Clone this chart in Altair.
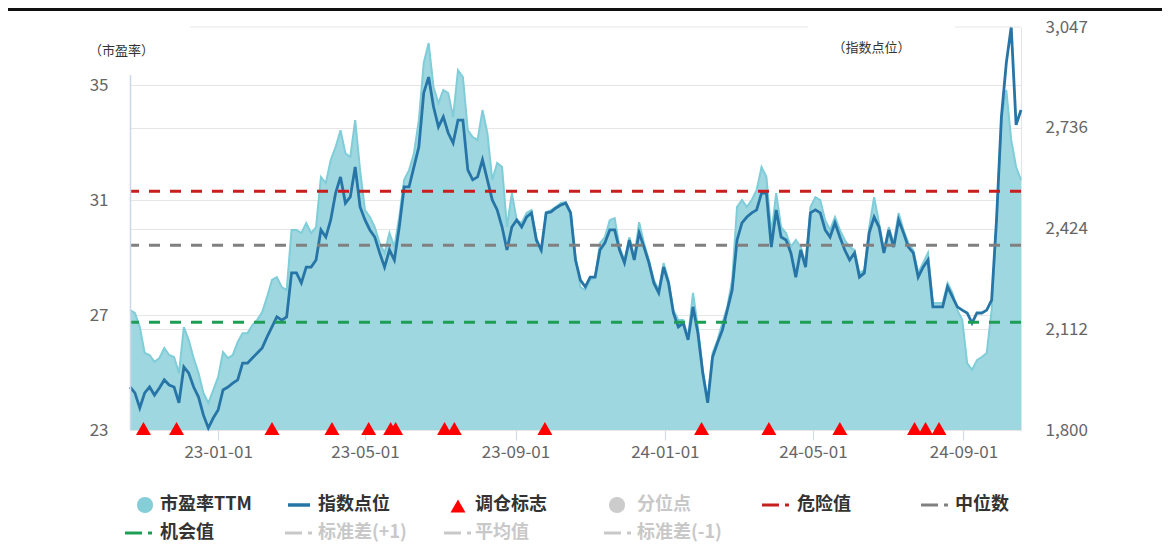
import altair as alt
import pandas as pd

FONT = "Noto Sans CJK SC"

# ---------------- data ----------------
start_date = "2022-10-21"
end_date = "2024-10-18"

pe_ttm = [27.17, 27.07, 26.58, 25.68, 25.61, 25.37, 25.50, 25.85, 25.61, 25.54,
          24.98, 26.58, 26.13, 25.50, 24.98, 24.29, 23.94, 24.39, 24.84, 25.71,
          25.50, 25.61, 26.06, 26.37, 26.37, 26.65, 26.83, 27.10, 27.63, 28.22,
          28.32, 27.97, 27.87, 29.96, 29.96, 29.85, 30.20, 29.85, 30.06, 31.80,
          31.59, 32.39, 32.84, 33.43, 32.63, 32.50, 33.78, 32.04, 30.65, 30.41,
          30.06, 29.50, 29.16, 29.85, 29.37, 30.41, 31.70, 32.04, 32.63, 33.78,
          35.77, 36.46, 34.93, 34.37, 34.83, 34.72, 33.89, 35.52, 35.28, 33.43,
          33.19, 33.09, 34.13, 33.33, 31.70, 32.29, 32.15, 30.06, 31.24, 30.30,
          30.20, 30.55, 30.65, 29.71, 29.16, 30.58, 30.65, 30.76, 30.90, 30.93,
          30.58, 29.02, 27.97, 27.87, 28.22, 28.32, 29.50, 29.71, 30.30, 30.37,
          29.37, 28.91, 29.71, 29.02, 30.23, 29.50, 28.91, 28.22, 27.87, 28.81,
          28.22, 27.17, 26.83, 26.83, 26.23, 27.77, 26.58, 25.09, 24.04, 25.68,
          26.13, 26.72, 27.28, 28.22, 30.76, 31.00, 30.76, 31.00, 31.35, 32.15,
          31.80, 29.85, 31.24, 30.06, 29.85, 29.37, 29.61, 29.37, 28.81, 30.76,
          31.10, 31.00, 30.30, 29.96, 30.41, 29.96, 29.61, 29.37, 29.26, 28.46,
          28.57, 30.06, 31.10, 30.20, 29.26, 30.06, 29.50, 30.55, 29.96, 29.50,
          29.26, 28.46, 28.81, 29.16, 27.42, 27.42, 27.42, 28.11, 27.77, 27.17,
          26.83, 25.33, 25.09, 25.43, 25.54, 25.68, 27.17, 30.30, 33.78, 34.83,
          33.09, 32.15, 31.70]

index_points = [1933, 1915, 1868, 1915, 1933, 1908, 1930, 1955, 1939, 1933,
                1884, 1995, 1976, 1933, 1902, 1846, 1806, 1837, 1862, 1924,
                1933, 1945, 1955, 2007, 2007, 2023, 2038, 2054, 2088, 2119,
                2150, 2140, 2150, 2286, 2286, 2255, 2304, 2304, 2326, 2419,
                2397, 2450, 2533, 2583, 2502, 2521, 2614, 2490, 2450, 2419,
                2397, 2348, 2304, 2357, 2326, 2428, 2552, 2552, 2614, 2676,
                2843, 2892, 2800, 2738, 2769, 2719, 2688, 2759, 2759, 2605,
                2574, 2583, 2636, 2574, 2512, 2481, 2428, 2357, 2428, 2450,
                2428, 2459, 2472, 2388, 2357, 2472, 2475, 2487, 2496, 2502,
                2472, 2326, 2264, 2243, 2273, 2273, 2357, 2379, 2419, 2419,
                2357, 2317, 2388, 2326, 2410, 2366, 2317, 2255, 2224, 2304,
                2255, 2162, 2119, 2131, 2079, 2181, 2100, 1976, 1884, 2026,
                2069, 2109, 2171, 2233, 2388, 2441, 2459, 2472, 2481, 2533,
                2533, 2366, 2481, 2397, 2388, 2348, 2273, 2357, 2304, 2472,
                2481, 2472, 2419, 2397, 2441, 2397, 2357, 2326, 2348, 2273,
                2286, 2410, 2459, 2428, 2348, 2419, 2366, 2450, 2410, 2366,
                2348, 2273, 2304, 2326, 2181, 2181, 2181, 2243, 2212, 2181,
                2171, 2162, 2131, 2162, 2162, 2171, 2202, 2450, 2769, 2936,
                3047, 2744, 2790]

rebalance_dates = ["2022-11-01", "2022-11-28", "2023-02-14", "2023-04-04",
                   "2023-05-04", "2023-05-22", "2023-05-26", "2023-07-05",
                   "2023-07-13", "2023-09-25", "2024-01-31", "2024-03-26",
                   "2024-05-23", "2024-07-23", "2024-08-01", "2024-08-12"]

threshold_names = ["危险值", "中位数", "机会值"]
threshold_values = [31.31, 29.43, 26.75]
threshold_colors = ["#c81e1e", "#808080", "#1e9e55"]

pe_domain = [23, 37.02]
idx_domain = [1800, 3047]
pe_ticks = [23, 27, 31, 35]
idx_ticks = [1800, 2111.75, 2423.5, 2735.25, 3047]
x_ticks = ["2023-01-01", "2023-05-01", "2023-09-01",
           "2024-01-01", "2024-05-01", "2024-09-01"]

# ---------------- tables ----------------
dates = pd.date_range(start_date, end_date, periods=len(pe_ttm)).normalize()
df = pd.DataFrame({"date": dates, "pe": pe_ttm, "idx": index_points})
df_reb = pd.DataFrame({"date": pd.to_datetime(rebalance_dates)})
df_thr = pd.DataFrame({"name": threshold_names, "value": threshold_values,
                       "color": threshold_colors})


def dt(s):
    t = pd.Timestamp(s)
    return alt.DateTime(year=t.year, month=t.month, date=t.day)


x_scale = alt.Scale(domain=[dt(start_date), dt(end_date)])
x_axis = alt.Axis(values=[dt(s) for s in x_ticks],
                  format="%y-%m-%d", grid=False, domain=False,
                  tickColor="#d3dbe8", tickSize=10, tickWidth=1.2,
                  labelPadding=4, labelFontSize=17, labelColor="#666",
                  labelFont=FONT, labelFlush=False, labelOverlap=False,
                  title=None)
x_enc = alt.X("date:T", scale=x_scale, axis=x_axis)

pe_scale = alt.Scale(domain=pe_domain, nice=False, zero=False)
idx_scale = alt.Scale(domain=idx_domain, nice=False, zero=False)

area = alt.Chart(df).mark_area(
    color="#9fd7e0", opacity=1, line={"color": "#7fcdd8", "strokeWidth": 2}
).encode(
    x=x_enc,
    y=alt.Y("pe:Q", scale=pe_scale,
            axis=alt.Axis(orient="left", values=pe_ticks, grid=True,
                          gridColor="#e6e6e6", domain=False, ticks=False,
                          labelPadding=22, labelFontSize=17, labelColor="#666",
                          labelFont=FONT, labelOverlap=False,
                          title="（市盈率）", titleAngle=0, titleX=-9, titleY=23,
                          titleAlign="center", titleBaseline="middle",
                          titleFontSize=13, titleFontWeight="normal",
                          titleColor="#333", titleFont=FONT)),
    y2=alt.Y2Datum(pe_domain[0]),
)

line = alt.Chart(df).mark_line(color="#2675a6", strokeWidth=2.8).encode(
    x=x_enc,
    y=alt.Y("idx:Q", scale=idx_scale,
            axis=alt.Axis(orient="right", values=idx_ticks,
                          labelExpr="format(ceil(datum.value), ',')",
                          grid=True, gridColor="#e6e6e6",
                          gridOpacity={"condition": {"test": "datum.value > 3000", "value": 0},
                                       "value": 1},
                          domain=True, domainColor="#e4e4e4", ticks=False,
                          labelPadding=24, labelFontSize=17, labelColor="#666",
                          labelFont=FONT, labelOverlap=False,
                          title="（指数点位）", titleAngle=0, titleX=-150, titleY=20,
                          titleAlign="center", titleBaseline="middle",
                          titleFontSize=13, titleFontWeight="normal",
                          titleColor="#333", titleFont=FONT)),
)

rules = alt.Chart(df_thr).mark_rule(strokeDash=[11, 10], strokeWidth=3).encode(
    y=alt.Y("value:Q", scale=pe_scale, axis=None),
    color=alt.Color("color:N", scale=None),
)

tri = alt.Chart(df_reb).mark_point(
    shape="triangle-up", filled=True, size=225, color="#ff0000", opacity=1,
    yOffset=-1.5,
).encode(
    x=x_enc,
    y=alt.YDatum(pe_domain[0], scale=pe_scale, axis=None),
)

# ---------------- decoration & legend ----------------
one = alt.Data(values=[{"k": 1}])


def seg(x1, x2, y, color, w=1.0):
    return alt.Chart(one).mark_rule(color=color, strokeWidth=w).encode(
        x=alt.value(x1), x2=alt.value(x2), y=alt.value(y))


def vseg(x, y1, y2, color, w=1.0):
    return alt.Chart(one).mark_rule(color=color, strokeWidth=w).encode(
        x=alt.value(x), y=alt.value(y1), y2=alt.value(y2))


def txt(x, y, s, color, size=18, weight="bold"):
    return alt.Chart(one).mark_text(
        text=s, align="left", baseline="middle", fontSize=size,
        fontWeight=weight, font=FONT, color=color).encode(
        x=alt.value(x), y=alt.value(y))


def sym(x, y, shape, color, size):
    return alt.Chart(one).mark_point(
        shape=shape, filled=True, size=size, color=color, opacity=1).encode(
        x=alt.value(x), y=alt.value(y))


deco = [
    seg(-122, 1032, -17.5, "#111111", 3),
    seg(60, 678, 0, "#e6e6e6", 1),
    seg(825, 891, 0, "#e6e6e6", 1),
    vseg(0.5, 48, 403, "#ccd6eb", 1.5),
]

on, off = "#333333", "#c8c8c8"
r1, r2 = 478, 506


def dashdot(x, y, color):
    return [seg(x, x + 17, y, color, 3), seg(x + 23, x + 27, y, color, 3)]


legend = [
    sym(15, r1, "circle", "#85cdd7", 260), txt(30, r1, "市盈率TTM", on),
    seg(158, 180, r1, "#2675a6", 3.5), txt(188, r1, "指数点位", on),
    sym(328, r1 + 1, "triangle-up", "#ff0000", 225), txt(345, r1, "调仓标志", on),
    sym(487, r1, "circle", "#cccccc", 260), txt(507, r1, "分位点", off),
    *dashdot(632, r1, threshold_colors[0]), txt(667, r1, "危险值", on),
    *dashdot(791, r1, threshold_colors[1]), txt(825, r1, "中位数", on),
    *dashdot(-5, r2, threshold_colors[2]), txt(30, r2, "机会值", on),
    *dashdot(155, r2, off), txt(188, r2, "标准差(+1)", off),
    *dashdot(314, r2, off), txt(345, r2, "平均值", off),
    *dashdot(474, r2, off), txt(507, r2, "标准差(-1)", off),
]

chart = alt.layer(area, line, rules, tri, *deco, *legend).resolve_scale(
    y="independent"
).properties(
    width=891, height=403,
    padding={"left": 122, "top": 19, "right": 141, "bottom": 114},
    autosize=alt.AutoSizeParams(type="none"),
).configure_view(stroke=None)

chart.save("out.html", embed_options={"renderer": "svg", "actions": False})
